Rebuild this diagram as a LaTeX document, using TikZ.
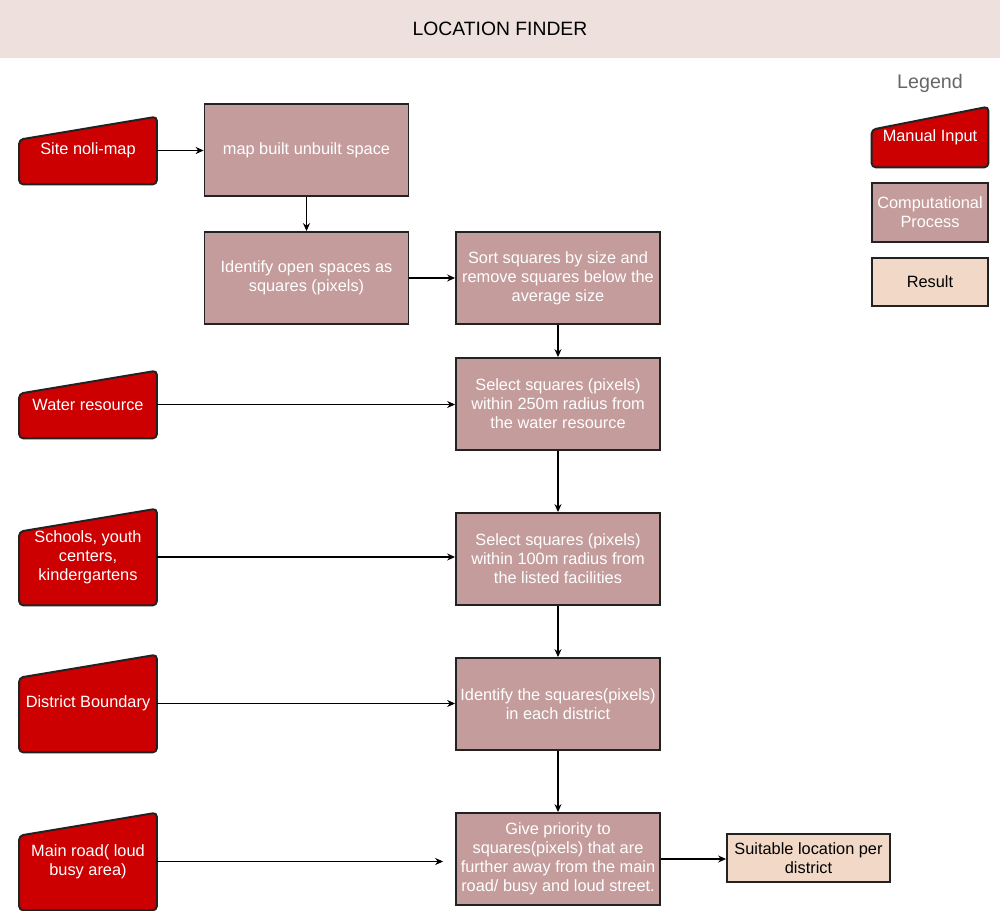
\documentclass[tikz,border=0pt]{standalone}
\usepackage{fontspec}
\setmainfont{Liberation Sans}
\usetikzlibrary{
  arrows.meta,
  positioning,
  backgrounds
}
\definecolor{titleBand}{RGB}{237,224,221}
\definecolor{inputRed}{RGB}{204,0,0}
\definecolor{processRose}{RGB}{196,156,156}
\definecolor{resultPeach}{RGB}{242,216,198}
\definecolor{boxLine}{RGB}{34,34,34}
\definecolor{legendGray}{RGB}{102,102,102}

\begin{document}
\begin{tikzpicture}[
      x=0.02cm, y=-0.02cm,
      >={Stealth[length=4.5pt,width=4pt]},
      every node/.style={
        font=\fontsize{9.3}{10.8}\selectfont,
        align=center,
        inner sep=0pt
      },
      input/.style={text=white, minimum width=2.74cm},
      process/.style={
        draw=boxLine, line width=1.1pt, fill=processRose, text=white,
        minimum width=4.08cm, minimum height=1.84cm
      },
      result/.style={
        draw=boxLine, line width=1.1pt, fill=resultPeach, text=black,
        minimum width=3.26cm, minimum height=0.96cm
      },
      flow/.style={->, line width=0.6pt}
      ]

      \useasboundingbox (0,0) rectangle (1000,911);

      % title band
      \node[fill=titleBand, minimum width=20cm, minimum height=1.16cm,
            font=\fontsize{11}{13}\selectfont] (title) at (500,29) {LOCATION FINDER};

      % manual inputs
      \node[input, minimum height=1.34cm] (site) at (88,150.5) {Site noli-map};
      \node[input, minimum height=1.34cm] (water) at (88,404.5) {Water resource};
      \node[input, minimum height=1.92cm] (schools) at (88,557) {Schools, youth\\centers,\\kindergartens};
      \node[input, minimum height=1.94cm] (district) at (88,703.5) {District Boundary};
      \node[input, minimum height=1.94cm] (road) at (88,861.5) {Main road( loud\\busy area)};

      % computational steps
      \node[process] (build) at (306.5,150) {map built unbuilt space};
      \node[process] (open) at (306.5,278) {Identify open spaces as\\squares (pixels)};
      \node[process] (sort) at (558,278) {Sort squares by size and\\remove squares below the\\average size};
      \node[process] (water250) at (558,404) {Select squares (pixels)\\within 250m radius from\\the water resource};
      \node[process] (near100) at (558,559) {Select squares (pixels)\\within 100m radius from\\the listed facilities};
      \node[process] (perDistrict) at (558,704) {Identify the squares(pixels)\\in each district};
      \node[process] (priority) at (558,859) {Give priority to\\squares(pixels) that are\\further away from the main\\road/ busy and loud street.};

      \node[result] (location) at (808.5,858) {Suitable location per\\district};

      % legend
      \node[text=legendGray, font=\fontsize{11.2}{13}\selectfont] (legend) at (930,83) {Legend};
      \node[input, minimum width=2.32cm, minimum height=1.2cm] (legInput) at (930,137) {Manual Input};
      \node[process, minimum width=2.32cm, minimum height=1.18cm] (legProcess) at (930,212.5) {Computational\\Process};
      \node[result, minimum width=2.32cm] (legResult) at (930,282) {Result};

      % slanted input shapes behind the texts
      \begin{scope}[on background layer]
        \foreach \n in {site, water, schools, district, road, legInput}{
          \draw[fill=inputRed, draw=boxLine, line width=1.1pt, rounded corners=0.08cm]
            ([yshift=-0.46cm]\n.north west) -- (\n.north east)
            -- (\n.south east) -- (\n.south west) -- cycle;
        }
      \end{scope}

      % connectors
      \draw[flow] (site.east) -- (site.east -| build.west);
      \draw[flow] (build) -- (open);
      \draw[flow] (open) -- (sort);
      \draw[flow] (sort) -- (water250);
      \draw[flow] (water.east) -- (water.east -| water250.west);
      \draw[flow] (water250) -- (near100);
      \draw[flow] (schools.east) -- (schools.east -| near100.west);
      \draw[flow] (near100) -- (perDistrict);
      \draw[flow] (district.east) -- (district.east -| perDistrict.west);
      \draw[flow] (perDistrict) -- (priority);
      \draw[flow] (road.east) -- ([xshift=-0.24cm]road.east -| priority.west);
      \draw[flow] (priority.east) -- (priority.east -| location.west);
    \end{tikzpicture}
\end{document}
